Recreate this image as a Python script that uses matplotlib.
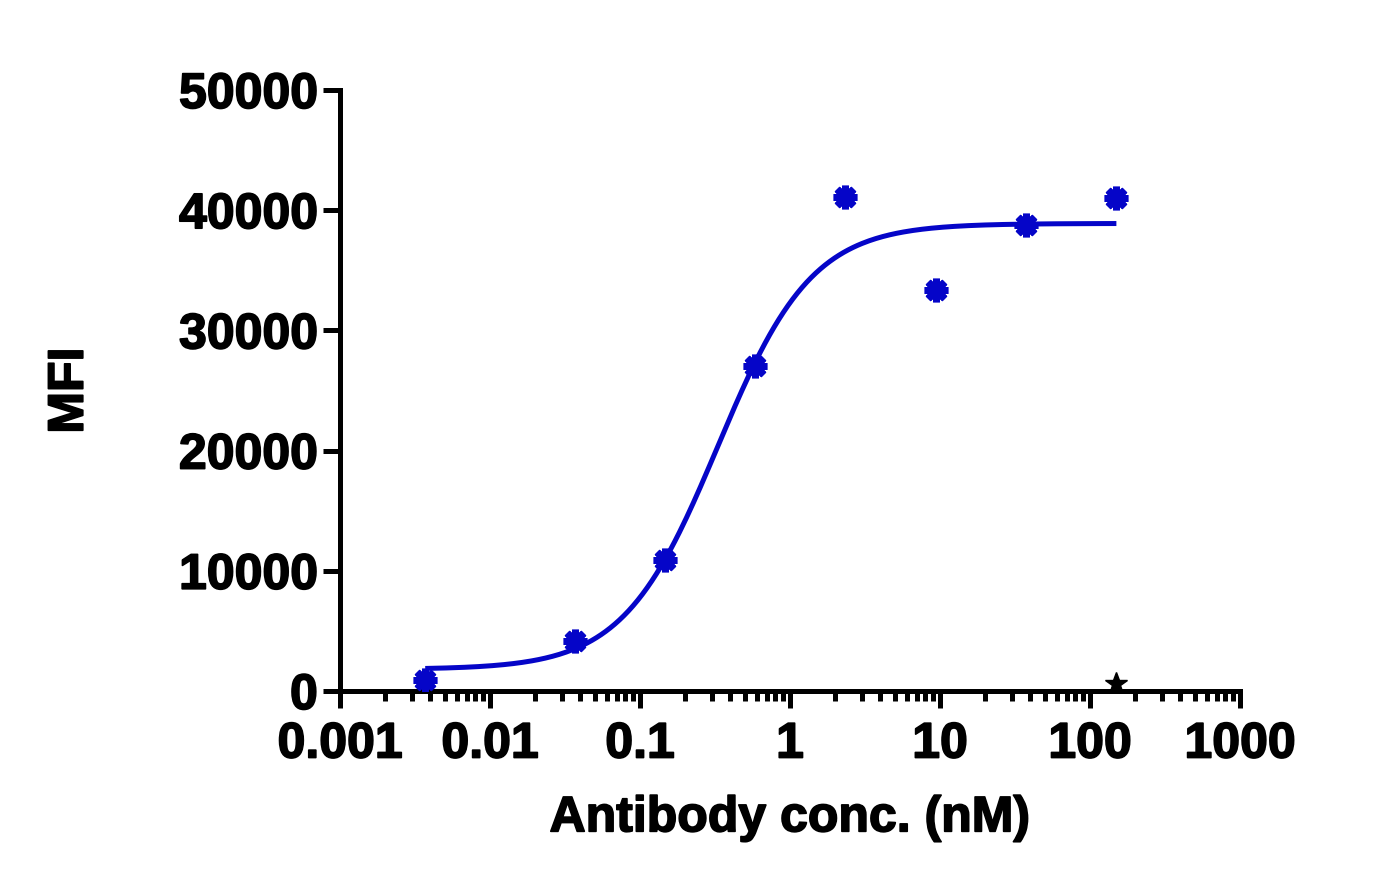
import numpy as np
import matplotlib.pyplot as plt
import matplotlib.ticker as ticker
import matplotlib.patheffects as pe

plt.rcParams['font.family'] = ['Liberation Sans', 'DejaVu Sans']
plt.rcParams['font.weight'] = 'bold'

# measured points (nM, MFI)
conc = [0.0037, 0.037, 0.146, 0.586, 2.34, 9.375, 37.5, 150]
mfi = [900, 4200, 10900, 27000, 41100, 33400, 38800, 41000]

# control point (black star)
ctrl_conc = [150]
ctrl_mfi = [600]

# 4PL fit parameters
bottom = 1800
top = 38900
ec50 = 0.33
hill = 1.38

BLUE = '#0505C8'
heavy = [pe.withStroke(linewidth=1.2, foreground='black')]

fig = plt.figure(figsize=(13.94, 8.93), dpi=100)
ax = fig.add_axes([0.2439, 0.2262, 0.6456, 0.673])

xs = np.logspace(np.log10(conc[0]), np.log10(conc[-1]), 300)
ys = bottom + (top - bottom) / (1 + (ec50 / xs) ** hill)
ax.plot(xs, ys, color=BLUE, linewidth=3.6, solid_capstyle='butt', zorder=2)

ax.plot(conc, mfi, linestyle='none', marker=(8, 2, 0), markersize=17,
        markeredgewidth=5, color=BLUE, zorder=3)
ax.plot(ctrl_conc, ctrl_mfi, linestyle='none', marker='*', markersize=17,
        color='black', zorder=3)

ax.set_xscale('log')
ax.set_xlim(0.001, 1000)
ax.set_ylim(0, 50000)
ax.set_yticks([0, 10000, 20000, 30000, 40000, 50000])
ax.xaxis.set_major_locator(ticker.LogLocator(base=10, numticks=10))
ax.xaxis.set_minor_locator(ticker.LogLocator(base=10, subs=np.arange(2, 10), numticks=100))
ax.xaxis.set_major_formatter(ticker.FuncFormatter(lambda v, _: f'{v:g}'))
ax.xaxis.set_minor_formatter(ticker.NullFormatter())

for s in ['top', 'right']:
    ax.spines[s].set_visible(False)
for s in ['left', 'bottom']:
    ax.spines[s].set_linewidth(3.6)
    ax.spines[s].set_capstyle('projecting')

ax.tick_params(axis='both', which='major', length=12, width=3.6, labelsize=36)
ax.tick_params(axis='y', pad=4)
ax.tick_params(axis='x', pad=10)
ax.tick_params(axis='x', which='minor', length=7, width=3.6)

for lbl in ax.get_xticklabels() + ax.get_yticklabels():
    lbl.set_path_effects(heavy)

ax.set_xlabel('Antibody conc. (nM)', fontsize=36, fontweight='bold', labelpad=20,
              path_effects=heavy)
ax.set_ylabel('MFI', fontsize=36, fontweight='bold', labelpad=62,
              path_effects=heavy)

fig.savefig('out.png', dpi=100)
